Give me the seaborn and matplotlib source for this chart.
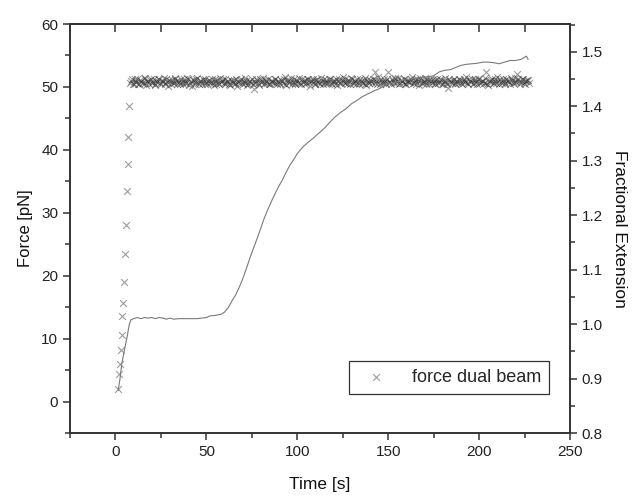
import numpy as np
import matplotlib
matplotlib.use("Agg")
import matplotlib.pyplot as plt
from matplotlib.ticker import MultipleLocator, FormatStrFormatter
import seaborn as sns

# force (dual beam) during the ramp
ramp_time = [1.5, 1.9, 2.5, 3.0, 3.4, 3.7, 4.3, 4.8, 5.2, 5.6, 6.2, 6.7, 7.0, 7.4]
ramp_force = [2.0, 4.3, 5.9, 8.2, 10.6, 13.6, 15.6, 19.0, 23.4, 28.1, 33.4, 37.7, 42.1, 47.0]

# force (dual beam) once the clamp holds, readings on the whole seconds 8 s .. 227 s
band_start, band_end = 8, 227
band_force = [
    50.6, 51.2, 50.4, 50.9, 51.3, 50.5, 51.0, 50.7, 51.4, 50.3,
    50.9, 51.1, 50.6, 51.3, 50.4, 50.8, 51.2, 50.5, 51.0, 50.7,
    51.3, 50.2, 50.9, 51.1, 50.6, 51.4, 50.5, 50.8, 51.2, 50.4,
    51.0, 50.7, 51.3, 50.6, 50.1, 51.1, 50.8, 51.4, 50.5, 50.9,
    51.2, 50.4, 50.8, 51.0, 50.6, 51.3, 50.3, 50.9, 51.1, 50.5,
    50.8, 51.2, 50.4, 50.7, 51.0, 50.3, 50.9, 51.1, 50.6, 50.2,
    50.8, 51.3, 50.5, 50.7, 51.0, 50.4, 50.9, 51.2, 49.6, 50.6,
    51.1, 50.3, 50.8, 51.4, 50.6, 50.9, 51.2, 50.5, 51.0, 50.7,
    51.3, 50.4, 50.8, 51.1, 50.6, 51.5, 50.3, 50.9, 51.0, 50.5,
    51.2, 50.7, 50.9, 51.4, 50.4, 50.8, 51.1, 50.6, 51.3, 50.2,
    50.9, 51.0, 50.5, 51.2, 50.7, 51.4, 50.4, 50.8, 51.1, 50.6,
    51.3, 50.5, 50.9, 51.0, 50.3, 51.2, 50.7, 51.5, 50.6, 50.8,
    51.1, 50.4, 51.3, 50.7, 50.9, 51.2, 50.5, 51.0, 50.6, 51.4,
    50.3, 50.8, 51.1, 50.6, 51.2, 52.4, 50.5, 50.9, 51.3, 50.7,
    51.0, 50.4, 52.3, 50.8, 51.2, 50.6, 51.4, 50.9, 50.5, 51.1,
    50.7, 51.3, 50.4, 51.0, 50.8, 51.5, 50.6, 50.9, 51.2, 50.3,
    51.1, 50.7, 51.4, 50.5, 50.9, 51.2, 50.6, 51.0, 50.4, 51.3,
    50.8, 51.1, 50.5, 51.4, 50.7, 49.8, 51.0, 50.6, 51.2, 50.4,
    50.9, 51.3, 50.6, 51.0, 50.8, 51.5, 50.4, 50.9, 51.2, 50.7,
    51.1, 50.5, 51.3, 50.8, 51.0, 50.6, 52.4, 50.3, 50.9, 51.2,
    50.7, 51.0, 51.5, 50.4, 50.8, 51.2, 50.6, 51.3, 50.9, 50.5,
    51.1, 50.7, 51.4, 52.1, 51.0, 50.8, 51.2, 50.5, 50.9, 51.1,
]

# the readings taken on the half seconds 8.5 s .. 227.5 s
half_start, half_end = 8.5, 227.5
half_force = [
    51.0, 50.5, 51.3, 50.8, 50.4, 51.1, 50.7, 51.4, 50.6, 50.9,
    50.5, 51.2, 50.8, 50.3, 51.0, 51.3, 50.6, 50.9, 51.4, 50.4,
    50.8, 51.1, 50.5, 50.7, 51.3, 50.9, 51.0, 50.4, 50.8, 51.2,
    50.6, 51.4, 50.3, 50.9, 51.1, 50.5, 51.2, 50.7, 51.0, 50.4,
    50.9, 51.3, 50.5, 51.1, 50.8, 50.6, 51.2, 50.4, 50.7, 51.4,
    51.0, 50.6, 51.2, 50.9, 50.4, 51.1, 50.7, 50.5, 51.3, 50.8,
    51.1, 50.6, 50.9, 51.4, 50.3, 51.0, 50.7, 50.5, 50.8, 51.2,
    50.6, 51.3, 50.9, 50.5, 51.1, 50.7, 50.4, 51.0, 50.8, 51.3,
    50.7, 51.0, 50.5, 50.9, 51.2, 50.4, 51.1, 50.6, 51.4, 50.8,
    50.5, 51.1, 50.7, 50.6, 51.3, 50.9, 50.4, 51.2, 50.8, 51.0,
    51.3, 50.5, 51.1, 50.8, 50.5, 50.9, 51.2, 50.6, 50.7, 51.3,
    50.6, 51.0, 50.4, 51.2, 50.9, 50.6, 51.1, 50.8, 51.3, 50.5,
    50.9, 51.4, 50.6, 51.0, 50.5, 50.8, 51.2, 50.7, 51.1, 50.4,
    51.1, 50.6, 50.9, 51.3, 50.7, 51.0, 51.6, 50.4, 50.8, 51.2,
    50.6, 51.3, 50.8, 50.5, 51.0, 51.2, 50.7, 51.4, 50.6, 50.9,
    51.2, 50.5, 51.0, 50.8, 51.3, 50.6, 51.1, 50.4, 50.9, 51.4,
    50.6, 51.0, 50.8, 51.2, 50.5, 50.9, 51.3, 50.7, 51.1, 50.6,
    51.3, 50.5, 50.9, 51.0, 50.4, 51.2, 50.8, 51.1, 50.6, 51.0,
    50.7, 51.1, 50.4, 51.3, 50.9, 50.6, 51.2, 50.8, 50.5, 51.3,
    50.8, 51.2, 50.6, 51.0, 50.7, 51.4, 50.5, 50.9, 51.1, 50.6,
    51.2, 50.6, 50.9, 51.3, 50.7, 51.0, 50.5, 51.1, 50.8, 51.4,
    50.6, 51.0, 50.8, 51.2, 50.5, 51.3, 50.7, 50.9, 51.1, 50.6,
]

# fractional extension of the tether
ext_time = [1.5, 2.5, 3.5, 4.5, 5.5, 6.5, 7.5, 8.5, 10, 12, 14, 16, 18, 20, 22, 24, 26,
            28, 30, 32, 35, 40, 45, 50, 52, 55, 58, 60, 62, 64, 66, 68, 70, 72, 74, 76,
            78, 80, 82, 84, 86, 88, 90, 92, 94, 96, 98, 100, 103, 106, 109, 112, 115,
            118, 121, 124, 127, 130, 133, 136, 139, 142, 145, 148, 151, 154, 157, 160,
            163, 166, 169, 172, 175, 178, 181, 184, 187, 190, 193, 196, 199, 202, 205,
            208, 211, 214, 217, 220, 223, 225, 226, 227]
ext_value = [0.878, 0.900, 0.928, 0.945, 0.962, 0.978, 0.998, 1.008, 1.010, 1.012,
             1.010, 1.012, 1.011, 1.012, 1.010, 1.012, 1.011, 1.009, 1.011, 1.009,
             1.010, 1.010, 1.010, 1.012, 1.015, 1.016, 1.018, 1.022, 1.030, 1.042,
             1.053, 1.067, 1.083, 1.102, 1.122, 1.140, 1.158, 1.177, 1.196, 1.212,
             1.227, 1.241, 1.254, 1.266, 1.280, 1.292, 1.302, 1.313, 1.325, 1.334,
             1.342, 1.351, 1.360, 1.371, 1.381, 1.389, 1.396, 1.405, 1.411, 1.418,
             1.423, 1.428, 1.432, 1.438, 1.442, 1.444, 1.447, 1.449, 1.451, 1.452,
             1.453, 1.454, 1.456, 1.463, 1.466, 1.467, 1.471, 1.475, 1.477, 1.478,
             1.479, 1.481, 1.481, 1.480, 1.478, 1.481, 1.484, 1.484, 1.486, 1.490,
             1.492, 1.486]

sns.set_style("ticks")
plt.rcParams['font.family'] = ['Liberation Sans', 'DejaVu Sans']

band_time = np.linspace(band_start, band_end, len(band_force))
half_time = np.linspace(half_start, half_end, len(half_force))
force_time = np.concatenate([ramp_time, band_time, half_time])
force_val = np.concatenate([ramp_force, band_force, half_force])

fig = plt.figure(figsize=(6.32, 4.96), dpi=100)
ax = fig.add_axes([0.1108, 0.127, 0.7911, 0.8246])

sns.scatterplot(x=force_time, y=force_val, ax=ax, marker='x', color='#3a3a3a',
                alpha=0.5, s=24, linewidth=0.8, label='force dual beam')
ax.set_xlim(-25, 250)
ax.set_ylim(-5, 60)

ax2 = ax.twinx()
sns.lineplot(x=ext_time, y=ext_value, ax=ax2, color='#7a7a7a', lw=0.8, sort=False)
ax2.set_ylim(0.8, 1.551)

# axes styling
for a in (ax, ax2):
    for sp in a.spines.values():
        sp.set_linewidth(1.2)
        sp.set_color('#333333')

ax.xaxis.set_major_locator(MultipleLocator(50))
ax.xaxis.set_minor_locator(MultipleLocator(25))
ax.yaxis.set_major_locator(MultipleLocator(10))
ax.yaxis.set_minor_locator(MultipleLocator(5))
ax.tick_params(axis='both', which='major', direction='out', length=5, width=1.1,
               labelsize=11, color='#333333', labelcolor='#222222')
ax.tick_params(axis='both', which='minor', direction='out', length=3.5, width=1.1,
               color='#333333')

ax2.yaxis.set_major_locator(MultipleLocator(0.1))
ax2.yaxis.set_minor_locator(MultipleLocator(0.05))
ax2.yaxis.set_major_formatter(FormatStrFormatter('%.1f'))
ax2.tick_params(axis='y', which='major', direction='out', length=5, width=1.1,
                labelsize=11, color='#333333', labelcolor='#222222')
ax2.tick_params(axis='y', which='minor', direction='out', length=3.5, width=1.1,
                color='#333333')

top = ax.secondary_xaxis('top')
top.xaxis.set_major_locator(MultipleLocator(25))
top.tick_params(axis='x', direction='in', length=6, width=1.1, labeltop=False,
                color='#333333')
top.spines['top'].set_linewidth(1.2)

ax.set_xlabel('Time [s]', fontsize=12.5, labelpad=13, color='#111111')
ax.set_ylabel('Force [pN]', fontsize=12, labelpad=6, color='#111111')
ax2.set_ylabel('Fractional Extension', fontsize=12.5, rotation=270, labelpad=17,
               color='#111111')

leg = ax.legend(loc='lower right', bbox_to_anchor=(0.958, 0.095), borderaxespad=0,
                fancybox=False, edgecolor='#333333', framealpha=1, fontsize=13,
                handlelength=2.0, handletextpad=1.0, borderpad=0.45)
leg.get_frame().set_linewidth(0.9)

fig.savefig('out.png', dpi=100)
